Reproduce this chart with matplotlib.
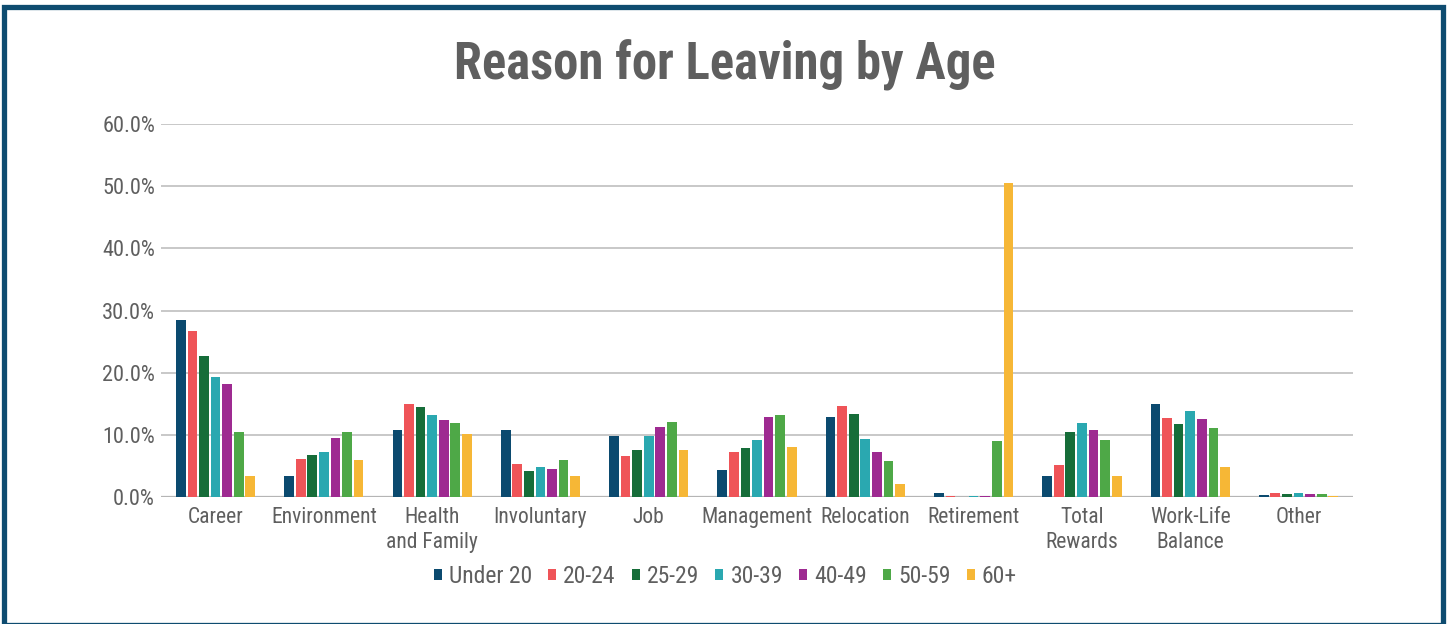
import matplotlib.pyplot as plt
import numpy as np
from matplotlib.patches import Rectangle

plt.rcParams["font.family"] = ["Roboto Condensed", "Roboto", "DejaVu Sans"]

categories = ["Career", "Environment", "Health\nand Family", "Involuntary", "Job",
              "Management", "Relocation", "Retirement", "Total\nRewards",
              "Work-Life\nBalance", "Other"]
age_groups = ["Under 20", "20-24", "25-29", "30-39", "40-49", "50-59", "60+"]

under_20 = [28.5, 3.4, 10.8, 10.8, 9.8, 4.3, 12.9, 0.7, 3.4, 15.0, 0.35]
age_20_24 = [26.7, 6.1, 15.0, 5.3, 6.6, 7.3, 14.7, 0.2, 5.1, 12.7, 0.7]
age_25_29 = [22.7, 6.8, 14.5, 4.2, 7.6, 7.9, 13.4, 0.05, 10.5, 11.8, 0.5]
age_30_39 = [19.3, 7.2, 13.2, 4.8, 9.8, 9.2, 9.4, 0.2, 11.9, 13.9, 0.7]
age_40_49 = [18.2, 9.5, 12.4, 4.5, 11.3, 12.9, 7.3, 0.2, 10.8, 12.5, 0.5]
age_50_59 = [10.5, 10.5, 11.9, 6.0, 12.1, 13.2, 5.8, 9.0, 9.2, 11.1, 0.5]
age_60_plus = [3.4, 6.0, 10.1, 3.4, 7.6, 8.1, 2.1, 50.5, 3.4, 4.8, 0.2]

series = [under_20, age_20_24, age_25_29, age_30_39, age_40_49, age_50_59, age_60_plus]
colors = ["#0b4a6f", "#ef5458", "#166d39", "#2aa8b0", "#9e2a91", "#4ea847", "#f6b736"]

text_color = "#5f5f5f"

fig = plt.figure(figsize=(14.49, 6.24), dpi=100)
ax = fig.add_axes([0.1114, 0.2035, 0.8221, 0.5978])

x = np.arange(len(categories))
slot = 0.107
for i, (vals, c) in enumerate(zip(series, colors)):
    ax.bar(x + (i - 3) * slot, vals, width=0.09, color=c, label=age_groups[i], zorder=4)

ax.set_xlim(-0.5, len(categories) - 0.5)
ax.set_ylim(0, 60)
ax.set_yticks(np.arange(0, 61, 10))
ax.set_yticklabels([f"{v:.1f}%" for v in np.arange(0, 61, 10)])
ax.set_xticks(x)
ax.set_xticklabels(categories, linespacing=1.25)
ax.yaxis.grid(True, color="#bfbfbf", linewidth=1.2, zorder=0)
ax.axhline(0, color="#b5b5b5", linewidth=1.6, zorder=3)
for s in ax.spines.values():
    s.set_visible(False)
ax.tick_params(axis="y", length=0, labelsize=16, colors=text_color, pad=4.6)
ax.tick_params(axis="x", length=0, labelsize=15.5, colors=text_color, pad=7.5)

fig.text(0.5, 0.895, "Reason for Leaving by Age", ha="center", va="center",
         fontsize=36.5, fontweight="bold", color=text_color)

leg = fig.legend(loc="center", bbox_to_anchor=(0.5005, 0.0761), ncol=7, frameon=False,
                 fontsize=17, handlelength=0.34, handleheight=0.34, handletextpad=0.3,
                 columnspacing=0.68, labelcolor=text_color)

# outer frame
fig.patches.append(Rectangle((4 / 1449, 1 - 625 / 624), 1438.7 / 1449, 618 / 624,
                             transform=fig.transFigure, fill=False,
                             edgecolor="#0e4c70", linewidth=3.8))

fig.savefig("out.png", dpi=100, facecolor="white")
